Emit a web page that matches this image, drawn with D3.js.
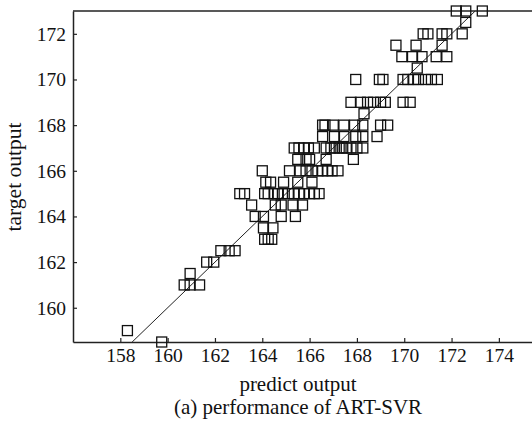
<!DOCTYPE html>
<meta charset="utf-8" />
<title>performance of ART-SVR</title>
<script src="https://d3js.org/d3.v7.min.js"></script>
<style>
  body { margin: 0; background: #fff; }
  svg text { font-family: "Liberation Serif", "Times New Roman", serif; fill: #111; }
</style>
<body>
<svg id="chart" width="532" height="424"></svg>
<script>
  // target output levels (one row of squares per level)
  var targetRows = [173, 172.5, 172, 171.5, 171, 170.5, 170, 169, 168.5, 168, 167.5,
                    167, 166.5, 166, 165.5, 165, 164.5, 164, 163.5, 163, 162.5, 162,
                    161.5, 161, 159, 158.5];

  // predict output, one list per target row
  var predictRows = [
    [172.2, 172.6, 173.3],
    [172.6],
    [170.8, 171.0, 171.6, 171.8, 172.45],
    [169.65, 170.5, 171.6],
    [169.9, 170.35, 170.75, 171.35, 171.8],
    [170.55],
    [167.95, 168.95, 169.1, 169.95, 170.15, 170.4, 170.6, 170.9, 171.15, 171.4],
    [167.75, 168.15, 168.45, 168.7, 169.0, 169.2, 169.95, 170.25],
    [168.3],
    [166.55, 166.65, 167.0, 167.45, 167.9, 168.25, 169.0, 169.3],
    [166.55, 167.05, 167.45, 167.95, 168.25, 168.85],
    [165.35, 165.55, 165.75, 165.95, 166.2, 166.7, 166.9, 167.05, 167.25, 167.4, 167.55, 167.75, 168.0, 168.25],
    [165.5, 165.85, 166.0, 166.7, 167.85],
    [164.0, 165.15, 165.6, 165.85, 166.1, 166.35, 166.55, 166.75, 166.95, 167.2],
    [164.15, 164.35, 164.9, 165.5, 166.1],
    [163.05, 163.25, 164.1, 164.25, 164.5, 164.65, 164.85, 165.1, 165.35, 165.55, 165.75, 166.0, 166.2, 166.4],
    [163.55, 164.55, 164.8, 165.3, 165.7],
    [163.7, 164.05, 164.8, 165.4],
    [164.05, 164.45],
    [164.1, 164.25, 164.4],
    [162.25, 162.6, 162.85],
    [161.65, 161.95],
    [160.95],
    [160.7, 160.95, 161.35],
    [158.3],
    [159.75]
  ];

  var xTicks = [158, 160, 162, 164, 166, 168, 170, 172, 174];
  var yTicks = [160, 162, 164, 166, 168, 170, 172];
  var fitLine = [158.5, 173];   // ideal line target = predict

  // flatten into points
  var points = [];
  targetRows.forEach(function(t, i) {
    predictRows[i].forEach(function(p) { points.push({ x: p, y: t }); });
  });

  var padL = 73, padR = 532, padT = 11, padB = 342;
  var svg = d3.select("#chart");

  var x = d3.scaleLinear().domain([156, 175.4]).range([padL, padR]);
  var y = d3.scaleLinear().domain([158.5, 173]).range([padB, padT]);

  // axes, ticks point inward
  var gx = svg.append("g")
    .attr("transform", "translate(0," + padB + ")")
    .call(d3.axisBottom(x).tickValues(xTicks).tickSizeInner(-4).tickSizeOuter(0)
      .tickPadding(6).tickFormat(d3.format("d")));
  var gy = svg.append("g")
    .attr("transform", "translate(" + padL + ",0)")
    .call(d3.axisLeft(y).tickValues(yTicks).tickSizeInner(-4).tickSizeOuter(0)
      .tickPadding(7).tickFormat(d3.format("d")));

  [gx, gy].forEach(function(g) {
    g.attr("font-family", "Liberation Serif").attr("font-size", 19.5);
    g.select(".domain").attr("stroke", "#222").attr("stroke-width", 1.5);
    g.selectAll(".tick line").attr("stroke", "#222").attr("stroke-width", 1.2);
    g.selectAll(".tick text").attr("fill", "#111");
  });

  // top frame line
  svg.append("line")
    .attr("x1", padL).attr("x2", padR)
    .attr("y1", padT).attr("y2", padT)
    .attr("stroke", "#222").attr("stroke-width", 1.5);

  // fit line
  svg.append("line")
    .attr("x1", x(fitLine[0])).attr("y1", y(fitLine[0]))
    .attr("x2", x(fitLine[1])).attr("y2", y(fitLine[1]))
    .attr("stroke", "#222").attr("stroke-width", 1);

  // hollow square markers
  var s = 10;
  svg.append("g").selectAll("rect")
    .data(points)
    .join("rect")
    .attr("x", function(d) { return x(d.x) - s / 2; })
    .attr("y", function(d) { return y(d.y) - s / 2; })
    .attr("width", s).attr("height", s)
    .attr("fill", "none")
    .attr("stroke", "#111")
    .attr("stroke-width", 1.3);

  // labels
  svg.append("text")
    .attr("x", 298).attr("y", 391)
    .attr("text-anchor", "middle").attr("font-size", 21)
    .text("predict output");
  svg.append("text")
    .attr("x", 298).attr("y", 414)
    .attr("text-anchor", "middle").attr("font-size", 21)
    .text("(a) performance of ART-SVR");
  svg.append("text")
    .attr("transform", "translate(21,177) rotate(-90)")
    .attr("text-anchor", "middle").attr("font-size", 21.5)
    .text("target output");
</script>
</body>
